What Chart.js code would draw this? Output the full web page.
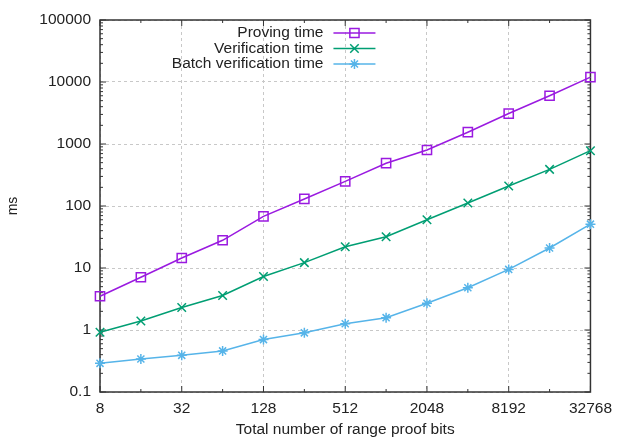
<!DOCTYPE html>
<html>
<head>
<meta charset="utf-8">
<script src="https://cdn.jsdelivr.net/npm/chart.js@4/dist/chart.umd.min.js"></script>
<style>
    html, body { margin: 0; padding: 0; background: #fff; }
    #wrap { width: 619px; height: 439px; }
</style>
</head>
<body>
<div id="wrap"><canvas id="chart" width="619" height="439"></canvas></div>
<script>
// Range proof timings (ms)
const bits = [8, 16, 32, 64, 128, 256, 512, 1024, 2048, 4096, 8192, 16384, 32768];
const provingTime = [3.5, 7.1, 14.5, 28, 68, 130, 250, 490, 800, 1550, 3100, 6000, 12000];
const verificationTime = [0.92, 1.4, 2.3, 3.6, 7.3, 12.2, 22, 32, 60, 112, 210, 390, 780];
const batchVerificationTime = [0.29, 0.34, 0.39, 0.46, 0.7, 0.9, 1.26, 1.58, 2.7, 4.8, 9.5, 21, 51];

const xTickValues = [8, 32, 128, 512, 2048, 8192, 32768];
const yTickValues = [0.1, 1, 10, 100, 1000, 10000, 100000];

Chart.defaults.font.family = "'Liberation Sans', Arial, sans-serif";
Chart.defaults.font.size = 15.5;
Chart.defaults.color = '#222';

function toPoints(values) {
    return bits.map((b, i) => ({ x: b, y: values[i] }));
}

// gnuplot style frame with inward ticks
const gnuFrame = {
    id: 'gnuFrame',
    beforeDatasetsDraw(chart) {
        const { ctx, chartArea: a, scales: { x, y } } = chart;
        ctx.save();
        ctx.strokeStyle = '#333';
        ctx.lineWidth = 1;
        ctx.beginPath();
        bits.forEach(v => {
            const px = x.getPixelForValue(v);
            const len = xTickValues.includes(v) ? 6 : 3;
            ctx.moveTo(px, a.bottom); ctx.lineTo(px, a.bottom - len);
            ctx.moveTo(px, a.top); ctx.lineTo(px, a.top + len);
        });
        for (let d = -1; d <= 5; d++) {
            for (let m = 1; m <= 9; m++) {
                const v = m * Math.pow(10, d);
                if (v < 0.1 || v > 100000) continue;
                const py = y.getPixelForValue(v);
                const len = m === 1 ? 6 : 3;
                ctx.moveTo(a.left, py); ctx.lineTo(a.left + len, py);
                ctx.moveTo(a.right, py); ctx.lineTo(a.right - len, py);
            }
        }
        ctx.stroke();
        ctx.lineWidth = 1.5;
        ctx.strokeRect(a.left, a.top, a.right - a.left, a.bottom - a.top);
        ctx.restore();
    }
};

// Legend: text right aligned, sample line with marker on its right
const gnuLegend = {
    id: 'gnuLegend',
    afterDatasetsDraw(chart) {
        const { ctx, chartArea: a } = chart;
        ctx.save();
        ctx.font = "15.5px 'Liberation Sans', Arial, sans-serif";
        ctx.textAlign = 'right';
        ctx.textBaseline = 'middle';
        chart.data.datasets.forEach((ds, i) => {
            const yy = a.top + 13 + i * 15.5;
            ctx.fillStyle = '#222';
            ctx.fillText(ds.label, a.right - 267, yy);
            ctx.strokeStyle = ds.borderColor;
            ctx.lineWidth = ds.borderWidth;
            ctx.beginPath();
            ctx.moveTo(a.right - 257, yy);
            ctx.lineTo(a.right - 215, yy);
            ctx.stroke();
            ctx.fillStyle = 'rgba(0,0,0,0)';
            ctx.lineWidth = ds.pointBorderWidth;
            Chart.helpers.drawPoint(ctx, {
                pointStyle: ds.pointStyle,
                radius: ds.pointRadius,
                borderWidth: ds.pointBorderWidth,
                rotation: 0
            }, a.right - 236, yy);
        });
        ctx.restore();
    }
};

const series = [
    { label: 'Proving time', values: provingTime, color: '#9a1ae0', style: 'rect', radius: 6.5 },
    { label: 'Verification time', values: verificationTime, color: '#009e73', style: 'crossRot', radius: 6 },
    { label: 'Batch verification time', values: batchVerificationTime, color: '#56b4e9', style: 'star', radius: 5 }
];

const chart = new Chart(document.getElementById('chart').getContext('2d'), {
    type: 'line',
    data: {
        datasets: series.map(s => ({
            label: s.label,
            data: toPoints(s.values),
            borderColor: s.color,
            backgroundColor: 'rgba(0,0,0,0)',
            borderWidth: 1.5,
            pointStyle: s.style,
            pointRadius: s.radius,
            pointBorderWidth: 1.5,
            pointBorderColor: s.color,
            pointBackgroundColor: 'rgba(0,0,0,0)',
            tension: 0,
            clip: false
        }))
    },
    options: {
        responsive: false,
        animation: false,
        layout: { padding: { left: 0, top: 20, right: 28, bottom: 0 } },
        plugins: {
            legend: { display: false },
            tooltip: { enabled: false }
        },
        scales: {
            x: {
                type: 'logarithmic',
                min: 8,
                max: 32768,
                afterBuildTicks: s => { s.ticks = xTickValues.map(v => ({ value: v })); },
                afterFit: s => { s.height = 47; },
                ticks: {
                    autoSkip: false,
                    maxRotation: 0,
                    padding: 7,
                    color: '#222',
                    callback: v => String(v)
                },
                grid: { color: '#c8c8c8', lineWidth: 1, drawTicks: false },
                border: { display: false, dash: [3, 3] },
                title: {
                    display: true,
                    text: 'Total number of range proof bits',
                    color: '#222',
                    font: { size: 15.5 },
                    padding: { top: 0, bottom: 0 }
                }
            },
            y: {
                type: 'logarithmic',
                min: 0.1,
                max: 100000,
                afterBuildTicks: s => { s.ticks = yTickValues.map(v => ({ value: v })); },
                afterFit: s => { s.width = 100; },
                ticks: {
                    autoSkip: false,
                    padding: 9,
                    color: '#222',
                    callback: v => String(v)
                },
                grid: { color: '#c8c8c8', lineWidth: 1, drawTicks: false },
                border: { display: false, dash: [3, 3] },
                title: {
                    display: true,
                    text: 'ms',
                    color: '#222',
                    font: { size: 14 },
                    padding: { top: 5, bottom: 0 }
                }
            }
        }
    },
    plugins: [gnuFrame, gnuLegend]
});
</script>
</body>
</html>
